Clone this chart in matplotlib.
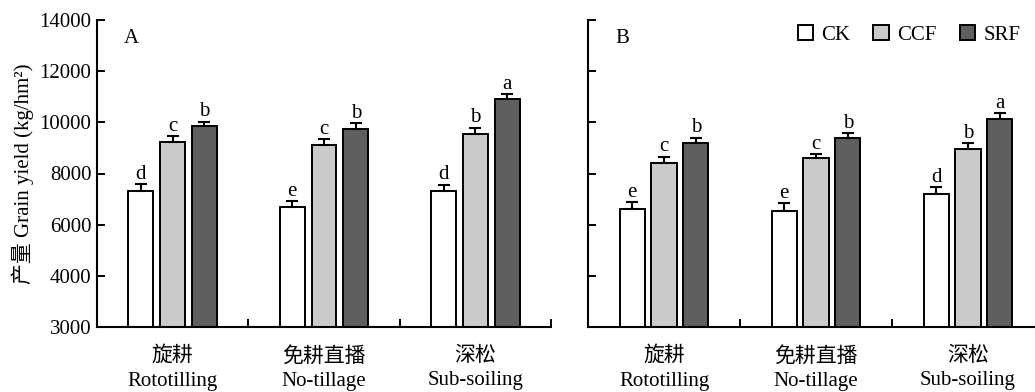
import numpy as np
import matplotlib
matplotlib.use("Agg")
import matplotlib.pyplot as plt
from matplotlib.patches import Patch

plt.rcParams['font.family'] = ['Liberation Serif', 'Noto Sans CJK SC']
plt.rcParams['font.size'] = 15

categories = ['旋耕\nRototilling', '免耕直播\nNo-tillage', '深松\nSub-soiling']
series = ['CK', 'CCF', 'SRF']
colors = ['white', '#cacaca', '#5f5f5f']

# panel A
a_ck = [7330, 6690, 7300]
a_ccf = [9230, 9100, 9540]
a_srf = [9870, 9740, 10900]
a_ck_err = [250, 230, 270]
a_ccf_err = [220, 230, 250]
a_srf_err = [150, 220, 200]
a_letters = [['d', 'e', 'd'], ['c', 'c', 'b'], ['b', 'b', 'a']]

# panel B
b_ck = [6600, 6530, 7210]
b_ccf = [8410, 8590, 8970]
b_srf = [9190, 9390, 10120]
b_ck_err = [270, 300, 250]
b_ccf_err = [235, 160, 210]
b_srf_err = [210, 180, 235]
b_letters = [['e', 'e', 'd'], ['c', 'c', 'b'], ['b', 'b', 'a']]

ytick_pos = [2000, 4000, 6000, 8000, 10000, 12000, 14000]
ytick_lab = ['3000', '4000', '6000', '8000', '10000', '12000', '14000']


def draw_panel(ax, vals, errs, letters, tag, show_y):
    x = np.arange(len(categories))
    width = 0.165
    offsets = [-0.21, 0, 0.21]
    for i in range(3):
        zeros = [0] * len(vals[i])
        ax.bar(x + offsets[i], vals[i], width, color=colors[i],
               edgecolor='black', linewidth=1.4, label=series[i], zorder=2)
        ax.errorbar(x + offsets[i], vals[i], yerr=[zeros, errs[i]],
                    fmt='none', ecolor='black', elinewidth=1.5,
                    capsize=4.5, capthick=1.5, zorder=3)
        for j in range(len(x)):
            ax.text(x[j] + offsets[i], vals[i][j] + errs[i][j] + 20,
                    letters[i][j], ha='center', va='bottom', fontsize=15)

    ax.set_xlim(-0.5, 2.5)
    ax.set_ylim(2000, 14000)
    ax.set_yticks(ytick_pos)
    if show_y:
        ax.set_yticklabels(ytick_lab)
    else:
        ax.set_yticklabels([])
    ax.tick_params(axis='y', direction='in', length=5.5, width=1.4, pad=4)
    ax.set_xticks(x)
    ax.set_xticklabels(categories, linespacing=1.4)
    ax.tick_params(axis='x', which='major', length=0, pad=14)
    ax.set_xticks([0.5, 1.5, 2.5], minor=True)
    ax.tick_params(axis='x', which='minor', direction='in', length=5.5, width=1.4)
    for s in ['top', 'right']:
        ax.spines[s].set_visible(False)
    for s in ['left', 'bottom']:
        ax.spines[s].set_linewidth(1.5)
    ax.text(0.06, 0.94, tag, transform=ax.transAxes, fontsize=15,
            ha='left', va='center')


fig = plt.figure(figsize=(10.35, 3.92), dpi=100)
ax1 = fig.add_axes([97 / 1035, 65 / 392, 454 / 1035, 307 / 392])
ax2 = fig.add_axes([588 / 1035, 65 / 392, 456 / 1035, 307 / 392])

draw_panel(ax1, [a_ck, a_ccf, a_srf], [a_ck_err, a_ccf_err, a_srf_err],
           a_letters, 'A', True)
draw_panel(ax2, [b_ck, b_ccf, b_srf], [b_ck_err, b_ccf_err, b_srf_err],
           b_letters, 'B', False)

ax1.set_ylabel('产量 Grain yield (kg/hm²)', fontsize=15, labelpad=4)

handles = [Patch(facecolor=c, edgecolor='black', linewidth=1.4) for c in colors]
ax2.legend(handles, series, ncol=3, frameon=False, loc='upper right',
           bbox_to_anchor=(0.99, 1.045), handlelength=0.75, handleheight=0.75,
           handletextpad=0.4, columnspacing=1.1, fontsize=15)

fig.savefig('out.png', dpi=100)
